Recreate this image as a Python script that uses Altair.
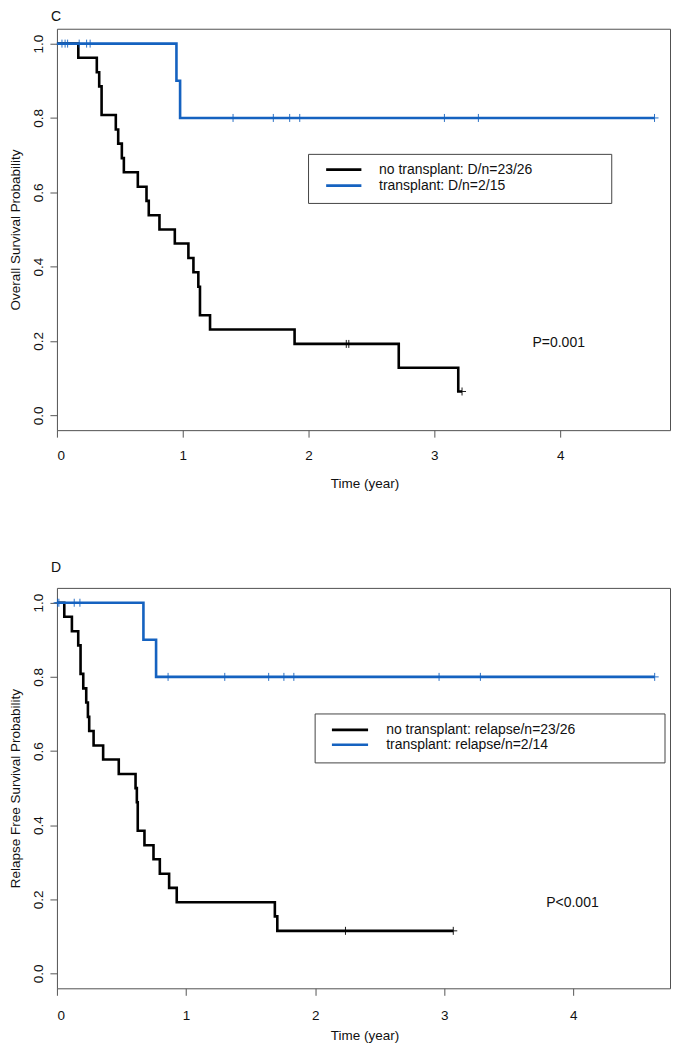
import altair as alt
import pandas as pd

# ---------------- Panel C : overall survival ----------------
c_no_time = [0, 0.17, 0.317, 0.336, 0.355, 0.468, 0.487, 0.516, 0.532, 0.643, 0.712, 0.73,
             0.815, 0.937, 1.045, 1.085, 1.124, 1.137, 1.217, 1.889, 2.717, 3.19, 3.22]
c_no_surv = [1.0, 0.962, 0.923, 0.885, 0.808, 0.769, 0.731, 0.692, 0.654, 0.615, 0.577, 0.538,
             0.5, 0.462, 0.423, 0.385, 0.346, 0.269, 0.231, 0.192, 0.128, 0.064, 0.064]
c_no_cens_time = [2.30, 2.32, 3.22]
c_no_cens_surv = [0.192, 0.192, 0.064]
c_tx_time = [0, 0.95, 0.979, 4.75]
c_tx_surv = [1.0, 0.9, 0.8, 0.8]
c_tx_cens_time = [0.04, 0.065, 0.085, 0.177, 0.236, 0.264, 1.40, 1.72, 1.85, 1.93, 3.08, 3.35, 4.75]
c_tx_cens_surv = [1.0, 1.0, 1.0, 1.0, 1.0, 1.0, 0.8, 0.8, 0.8, 0.8, 0.8, 0.8, 0.8]
c_legend = ["no transplant: D/n=23/26", "transplant: D/n=2/15"]
c_pvalue = "P=0.001"

# ---------------- Panel D : relapse free survival ----------------
d_no_time = [0, 0.057, 0.116, 0.165, 0.183, 0.204, 0.227, 0.24, 0.25, 0.284, 0.358, 0.479,
             0.609, 0.619, 0.626, 0.678, 0.748, 0.797, 0.869, 0.928, 1.688, 1.707, 3.07]
d_no_surv = [1.0, 0.962, 0.923, 0.885, 0.808, 0.769, 0.731, 0.692, 0.654, 0.615, 0.577, 0.538,
             0.5, 0.462, 0.385, 0.346, 0.308, 0.269, 0.231, 0.192, 0.154, 0.115, 0.115]
d_no_cens_time = [2.235, 3.07]
d_no_cens_surv = [0.115, 0.115]
d_tx_time = [0, 0.67, 0.768, 4.63]
d_tx_surv = [1.0, 0.9, 0.8, 0.8]
d_tx_cens_time = [0.005, 0.015, 0.134, 0.178, 0.861, 1.30, 1.64, 1.758, 1.835, 2.96, 3.28, 4.63]
d_tx_cens_surv = [1.0, 1.0, 1.0, 1.0, 0.8, 0.8, 0.8, 0.8, 0.8, 0.8, 0.8, 0.8]
d_legend = ["no transplant: relapse/n=23/26", "transplant: relapse/n=2/14"]
d_pvalue = "P<0.001"

groups = ["no", "tx"]
BLACK = "#000000"
BLUE = "#1562c0"
FONT = "Liberation Sans"
FS = 13.5
FS_TEXT = 14
WIDTH = 614


def panel(letter, letter_pos, ytitle, no_t, no_s, no_ct, no_cs, tx_t, tx_s, tx_ct, tx_cs,
          legend, ptext, xmax, height, box, line_x, line_y, text_x, p_pos,
          xlabpad, xtitley):
    xscale = alt.Scale(domain=[0, xmax], nice=False, zero=False)
    yscale = alt.Scale(domain=[-0.04, 1.04], nice=False, zero=False)
    xaxis = alt.Axis(values=[0, 1, 2, 3, 4], format="d", title="Time (year)", grid=False,
                     domain=False, tickSize=7, tickColor="#555555", tickWidth=1,
                     labelFontSize=FS, labelColor="#111111", labelPadding=xlabpad,
                     labelFont=FONT, titleFont=FONT, titleFontSize=FS,
                     titleFontWeight="normal", titleColor="#111111",
                     titleBaseline="alphabetic", titleY=xtitley, titleX=WIDTH / 2 + 1)
    yaxis = alt.Axis(values=[0, 0.2, 0.4, 0.6, 0.8, 1.0], format=".1f", title=ytitle,
                     grid=False, domain=False, tickSize=7, tickColor="#555555",
                     tickWidth=1, labelAngle=270, labelAlign="center",
                     labelBaseline="alphabetic", labelPadding=7, labelFontSize=FS,
                     labelColor="#111111", labelFont=FONT, titleFont=FONT,
                     titleFontSize=FS, titleFontWeight="normal", titleColor="#111111",
                     titleAngle=270, titleAlign="center", titleBaseline="alphabetic",
                     titleX=-37, titleY=height / 2)

    def X(f):
        return alt.X(f"{f}:Q", scale=xscale, axis=xaxis)

    def Y(f):
        return alt.Y(f"{f}:Q", scale=yscale, axis=yaxis)

    color = alt.Color("grp:N", scale=alt.Scale(domain=groups, range=[BLACK, BLUE]), legend=None)

    steps = pd.DataFrame({
        "time": no_t + tx_t,
        "surv": no_s + tx_s,
        "grp": ["no"] * len(no_t) + ["tx"] * len(tx_t),
    })
    cens = pd.DataFrame({
        "time": no_ct + tx_ct,
        "surv": no_cs + tx_cs,
        "grp": ["no"] * len(no_ct) + ["tx"] * len(tx_ct),
    })
    lines = alt.Chart(steps).mark_line(interpolate="step-after", strokeWidth=2.6).encode(
        x=X("time"), y=Y("surv"), color=color)
    marks = alt.Chart(cens).mark_point(shape="M0,-1V1M-1,0H1", size=64, filled=False,
                                       strokeWidth=1, opacity=0.9).encode(
        x=X("time"), y=Y("surv"), color=color)

    boxdf = pd.DataFrame({"x1": [box[0]], "x2": [box[1]], "y1": [box[2]], "y2": [box[3]]})
    legbox = alt.Chart(boxdf).mark_rect(fill="white", stroke="#444444", strokeWidth=1).encode(
        x=X("x1"), x2="x2", y=Y("y1"), y2="y2")
    legdf = pd.DataFrame({"lx1": [line_x[0]] * 2, "lx2": [line_x[1]] * 2, "ly": line_y,
                          "tx": [text_x] * 2, "label": legend, "grp": groups})
    leglines = alt.Chart(legdf).mark_rule(strokeWidth=2.6).encode(
        x=X("lx1"), x2="lx2", y=Y("ly"), color=color)
    legtext = alt.Chart(legdf).mark_text(align="left", baseline="middle", fontSize=FS_TEXT,
                                         font=FONT, color="#111111").encode(
        x=X("tx"), y=Y("ly"), text="label:N")
    pdf = pd.DataFrame({"px": [p_pos[0]], "py": [p_pos[1]], "t": [ptext]})
    ptxt = alt.Chart(pdf).mark_text(align="left", baseline="middle", fontSize=FS_TEXT,
                                    font=FONT, color="#111111").encode(
        x=X("px"), y=Y("py"), text="t:N")
    ldf = pd.DataFrame({"lx": [letter_pos[0]], "ly": [letter_pos[1]], "t": [letter]})
    ltxt = alt.Chart(ldf).mark_text(align="left", baseline="alphabetic", fontSize=14,
                                    font=FONT, color="#111111").encode(
        x=X("lx"), y=Y("ly"), text="t:N")

    return alt.layer(lines, marks, legbox, leglines, legtext, ptxt, ltxt).properties(
        width=WIDTH, height=height)


chart_c = panel("C", (-0.048, 1.0615), "Overall Survival Probability",
                c_no_time, c_no_surv, c_no_cens_time, c_no_cens_surv,
                c_tx_time, c_tx_surv, c_tx_cens_time, c_tx_cens_surv,
                c_legend, c_pvalue, xmax=WIDTH / 126.0, height=402,
                box=(2.0, 4.41, 0.570, 0.702), line_x=(2.14, 2.42), line_y=[0.661, 0.618],
                text_x=2.56, p_pos=(3.78, 0.194), xlabpad=11, xtitley=57)

chart_d = panel("D", (-0.046, 1.083), "Relapse Free Survival Probability",
                d_no_time, d_no_surv, d_no_cens_time, d_no_cens_surv,
                d_tx_time, d_tx_surv, d_tx_cens_time, d_tx_cens_surv,
                d_legend, d_pvalue, xmax=WIDTH / 129.3, height=401,
                box=(2.0, 4.71, 0.568, 0.700), line_x=(2.13, 2.41), line_y=[0.657, 0.617],
                text_x=2.55, p_pos=(3.79, 0.19), xlabpad=13, xtitley=51)

chart = alt.vconcat(chart_c, chart_d, spacing=70).properties(padding=0).configure(
    font=FONT).configure_view(stroke="#505050", strokeWidth=1)

chart.save("out.html", embed_options={"renderer": "svg", "actions": False})
